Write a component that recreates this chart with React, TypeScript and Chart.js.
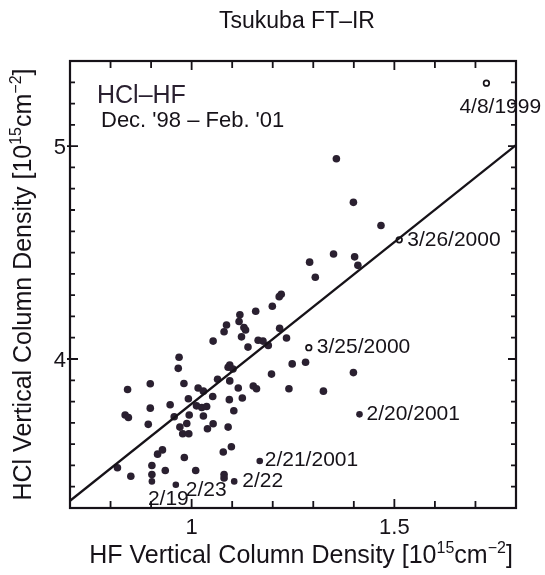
import React, { useEffect, useRef } from 'react';
import { Chart, registerables } from 'chart.js';

Chart.register(...registerables);

const FONT = '"Liberation Sans", Arial, Helvetica, sans-serif';
const INK = '#161218';
const DOT = '#2a2030';

// HF (x) and HCl (y) vertical column densities, 10^15 cm^-2
const hfValues = [
  1.357, 1.399, 1.467, 1.350, 1.402, 1.410, 1.291, 1.305, 1.221, 1.216,
  1.199, 1.158, 1.119, 1.117, 1.086, 1.080, 1.129, 1.133, 1.123, 1.053,
  1.139, 1.164, 1.176, 1.189, 1.217, 1.234, 1.248, 1.281, 1.197, 1.240,
  1.325, 1.399, 0.969, 0.967, 1.090, 1.102, 1.094, 1.115, 1.094, 1.064,
  1.152, 1.160, 1.125, 1.093, 1.104, 1.090, 1.052, 1.016, 1.029, 0.992,
  0.981, 1.012, 1.025, 1.037, 1.029, 1.053, 1.039, 0.994, 0.988, 0.978,
  0.971, 0.993, 0.957, 0.947, 0.898, 0.898, 0.893, 0.842, 0.836, 0.844,
  0.817, 0.850, 0.902, 0.902, 0.916, 0.928, 0.935, 0.982, 1.010, 1.078,
  1.098, 1.080, 1.080,
];
const hclValues = [
  4.941, 4.736, 4.627, 4.493, 4.480, 4.440, 4.455, 4.384, 4.304, 4.293,
  4.248, 4.224, 4.208, 4.176, 4.160, 4.128, 4.148, 4.136, 4.104, 4.084,
  4.056, 4.088, 4.084, 4.064, 4.144, 4.099, 3.977, 3.985, 3.929, 3.860,
  3.849, 3.936, 4.008, 3.956, 3.961, 3.953, 3.972, 3.864, 3.897, 3.905,
  3.873, 3.860, 3.817, 3.809, 3.757, 3.680, 3.824, 3.864, 3.849, 3.813,
  3.885, 3.780, 3.772, 3.777, 3.732, 3.696, 3.672, 3.737, 3.697, 3.649,
  3.680, 3.649, 3.729, 3.785, 3.884, 3.769, 3.693, 3.857, 3.737, 3.725,
  3.489, 3.449, 3.500, 3.457, 3.553, 3.573, 3.476, 3.537, 3.476, 3.563,
  3.588, 3.457, 3.441,
];

// open-circle days
const openHf = [1.727, 1.512, 1.289];
const openHcl = [5.296, 4.560, 4.053];
const openLabels = ['4/8/1999', '3/26/2000', '3/25/2000'];

// labelled filled days
const markHf = [1.414, 1.168, 1.105, 0.961, 0.902];
const markHcl = [3.740, 3.521, 3.425, 3.409, 3.425];
const markLabels = ['2/20/2001', '2/21/2001', '2/22', '2/23', '2/19'];

// regression line end points
const fitHf = [0.7, 1.8];
const fitHcl = [3.334, 5.005];

const X_MIN = 0.7;
const X_MAX = 1.8;
const Y_MIN = 3.3;
const Y_MAX = 5.4;
const xTickLabels = [1, 1.5];
const yTickLabels = [4, 5];
const xMinorTicks = [0.8, 0.9, 1.0, 1.1, 1.2, 1.3, 1.4, 1.5, 1.6, 1.7];
const yMinorTicks = [
  3.4, 3.5, 3.6, 3.7, 3.8, 3.9, 4.0, 4.1, 4.2, 4.3,
  4.4, 4.5, 4.6, 4.7, 4.8, 4.9, 5.0, 5.1, 5.2, 5.3,
];

const titleText = 'Tsukuba FT\u2013IR';
const xTitleText = 'HF Vertical Column Density [10';
const yTitleText = 'HCl Vertical Column Density [10';
const panelText = 'HCl\u2013HF';
const periodText = "Dec. '98 \u2013 Feb. '01";

// label placement (pixel offsets from the labelled point: dx to text start, dy to text middle)
const labelLayout: Record<string, [number, number]> = {
  '4/8/1999': [-27, 24],
  '3/26/2000': [8, 0],
  '3/25/2000': [8, -1],
  '2/20/2001': [7, 0],
  '2/21/2001': [5, -1],
  '2/22': [8, 0],
  '2/23': [10, 5],
  '2/19': [-4, 18],
};

type Part = { t: string; s: number; r: number };

function drawRich(ctx: CanvasRenderingContext2D, parts: Part[], x: number, y: number) {
  let w = 0;
  for (const p of parts) {
    ctx.font = `${p.s}px ${FONT}`;
    w += ctx.measureText(p.t).width;
  }
  let cx = x - w / 2;
  ctx.textAlign = 'left';
  ctx.textBaseline = 'alphabetic';
  for (const p of parts) {
    ctx.font = `${p.s}px ${FONT}`;
    ctx.fillText(p.t, cx, y - p.r);
    cx += ctx.measureText(p.t).width;
  }
}

function unitParts(main: string, big: number): Part[] {
  const small = Math.round(big * 0.62);
  return [
    { t: main, s: big, r: 0 },
    { t: '15', s: small, r: big * 0.42 },
    { t: 'cm', s: big, r: 0 },
    { t: '\u22122', s: small, r: big * 0.42 },
    { t: ']', s: big, r: 0 },
  ];
}

const framePlugin = {
  id: 'framePlugin',
  afterDatasetsDraw(chart: any) {
    const { ctx, chartArea: a, scales } = chart;
    const xs = scales.x;
    const ys = scales.y;
    ctx.save();
    ctx.strokeStyle = INK;
    ctx.fillStyle = INK;
    // frame
    ctx.lineWidth = 2.2;
    ctx.strokeRect(a.left, a.top, a.right - a.left, a.bottom - a.top);
    // ticks
    ctx.lineWidth = 1.8;
    ctx.beginPath();
    for (const v of xMinorTicks) {
      const px = xs.getPixelForValue(v);
      const major = xTickLabels.some((t) => Math.abs(t - v) < 1e-6);
      const len = major ? 9 : 7;
      ctx.moveTo(px, a.bottom);
      ctx.lineTo(px, a.bottom - len);
      ctx.moveTo(px, a.top);
      ctx.lineTo(px, a.top + len);
    }
    for (const v of yMinorTicks) {
      const py = ys.getPixelForValue(v);
      const major = yTickLabels.some((t) => Math.abs(t - v) < 1e-6);
      const len = major ? 8 : 5;
      ctx.moveTo(a.left - (major ? 3 : 0), py);
      ctx.lineTo(a.left + len, py);
      ctx.moveTo(a.right, py);
      ctx.lineTo(a.right - len, py);
    }
    ctx.stroke();

    // tick labels
    ctx.font = `22px ${FONT}`;
    ctx.textBaseline = 'alphabetic';
    ctx.textAlign = 'center';
    for (const v of xTickLabels) {
      ctx.fillText(String(v), xs.getPixelForValue(v), a.bottom + 26);
    }
    ctx.textAlign = 'right';
    for (const v of yTickLabels) {
      ctx.fillText(String(v), a.left - 4, ys.getPixelForValue(v) + 8);
    }

    // point labels
    ctx.font = `21px ${FONT}`;
    ctx.textAlign = 'left';
    ctx.textBaseline = 'middle';
    const put = (labels: string[], hx: number[], hy: number[]) => {
      labels.forEach((t, i) => {
        const [dx, dy] = labelLayout[t];
        ctx.fillText(t, xs.getPixelForValue(hx[i]) + dx, ys.getPixelForValue(hy[i]) + dy);
      });
    };
    put(openLabels, openHf, openHcl);
    put(markLabels, markHf, markHcl);

    // panel text
    ctx.textBaseline = 'alphabetic';
    ctx.font = `25px ${FONT}`;
    ctx.fillStyle = '#2a2030';
    ctx.fillText(panelText, a.left + 27, a.top + 42);
    ctx.fillStyle = INK;
    ctx.font = `22px ${FONT}`;
    ctx.fillText(periodText, a.left + 31, a.top + 66);

    // chart title
    ctx.textAlign = 'center';
    ctx.font = `23px ${FONT}`;
    ctx.fillText(titleText, (a.left + a.right) / 2 + 4, 28);

    // x title
    drawRich(ctx, unitParts(xTitleText, 25), (a.left + a.right) / 2 + 8, 563);

    // y title
    ctx.translate(31, (a.top + a.bottom) / 2);
    ctx.rotate(-Math.PI / 2);
    drawRich(ctx, unitParts(yTitleText, 25), 0, 0);
    ctx.restore();
  },
};

export default function App() {
  const ref = useRef<HTMLCanvasElement | null>(null);

  useEffect(() => {
    if (!ref.current) return;
    const main = hfValues.map((x, i) => ({ x, y: hclValues[i] }));
    const opens = openHf.map((x, i) => ({ x, y: openHcl[i] }));
    const marks = markHf.map((x, i) => ({ x, y: markHcl[i] }));
    const fit = fitHf.map((x, i) => ({ x, y: fitHcl[i] }));

    const chart = new Chart(ref.current, {
      type: 'scatter',
      data: {
        datasets: [
          {
            type: 'line',
            data: fit,
            borderColor: INK,
            borderWidth: 2.4,
            pointRadius: 0,
            fill: false,
            tension: 0,
          } as any,
          {
            data: main,
            backgroundColor: DOT,
            borderColor: DOT,
            pointRadius: 3.8,
            pointBorderWidth: 0,
          },
          {
            data: marks,
            backgroundColor: DOT,
            borderColor: DOT,
            pointRadius: 3.3,
            pointBorderWidth: 0,
          },
          {
            data: opens,
            backgroundColor: '#ffffff',
            borderColor: INK,
            pointRadius: 2.8,
            pointBorderWidth: 1.7,
          },
        ],
      },
      options: {
        responsive: false,
        animation: false,
        events: [],
        layout: { padding: { left: 0, right: 29, top: 61, bottom: 0 } },
        plugins: {
          legend: { display: false },
          title: { display: false },
          tooltip: { enabled: false },
        },
        scales: {
          x: {
            type: 'linear',
            min: X_MIN,
            max: X_MAX,
            grid: { display: false, drawTicks: false },
            border: { display: false },
            ticks: { display: false },
            afterFit: (s: any) => {
              s.height = 67;
            },
          },
          y: {
            type: 'linear',
            min: Y_MIN,
            max: Y_MAX,
            grid: { display: false, drawTicks: false },
            border: { display: false },
            ticks: { display: false },
            afterFit: (s: any) => {
              s.width = 70;
            },
          },
        },
      },
      plugins: [framePlugin],
    });
    return () => chart.destroy();
  }, []);

  return (
    <div style={{ position: 'fixed', left: 0, top: 0, width: 545, height: 575, background: '#fff' }}>
      <canvas ref={ref} width={545} height={575} style={{ display: 'block' }} />
    </div>
  );
}
